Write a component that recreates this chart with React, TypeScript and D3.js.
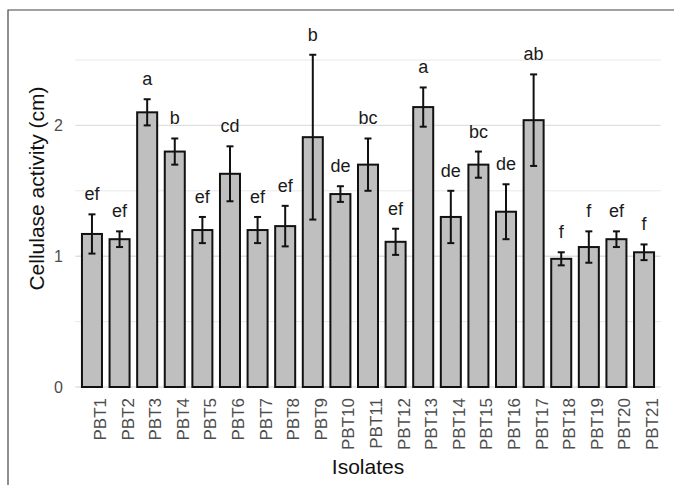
import React from 'react';
import * as d3 from 'd3';

// isolates and their mean cellulase activity (cm) with error (+/-)
const isolates = ['PBT1', 'PBT2', 'PBT3', 'PBT4', 'PBT5', 'PBT6', 'PBT7', 'PBT8', 'PBT9', 'PBT10', 'PBT11',
  'PBT12', 'PBT13', 'PBT14', 'PBT15', 'PBT16', 'PBT17', 'PBT18', 'PBT19', 'PBT20', 'PBT21'];
const means = [1.17, 1.13, 2.10, 1.80, 1.20, 1.63, 1.20, 1.23, 1.91, 1.475, 1.70,
  1.11, 2.14, 1.30, 1.70, 1.34, 2.04, 0.98, 1.07, 1.13, 1.03];
const errors = [0.15, 0.06, 0.10, 0.10, 0.10, 0.21, 0.10, 0.155, 0.63, 0.06, 0.20,
  0.10, 0.15, 0.20, 0.10, 0.21, 0.35, 0.05, 0.12, 0.06, 0.06];
const groups = ['ef', 'ef', 'a', 'b', 'ef', 'cd', 'ef', 'ef', 'b', 'de', 'bc',
  'ef', 'a', 'de', 'bc', 'de', 'ab', 'f', 'f', 'ef', 'f'];
const majorTicks = [0, 1, 2];
const minorTicks = [0.5, 1.5, 2.5];

const W = 674;
const H = 485;
const FONT = '"Liberation Sans", Arial, Helvetica, sans-serif';

const App = () => {
  const x = d3.scalePoint<string>().domain(isolates).range([75.4, 660.6]).padding(0.6);
  const y = d3.scaleLinear().domain([0, 2.5]).range([387, 60]);
  const barW = x.step() * 0.725;
  const cap = 3.5;

  return (
    <svg width={W} height={H} style={{ position: 'absolute', left: 0, top: 0, background: '#fff' }}
      fontFamily={FONT}>
      {/* frame */}
      <path d={`M8,${H} L8,10 L${W},10`} fill="none" stroke="#444" strokeWidth={1.2} />

      {/* grid */}
      {minorTicks.map(t => (
        <line key={'m' + t} x1={75.4} x2={660.6} y1={y(t)} y2={y(t)} stroke="#e8e8e8" strokeWidth={1} />
      ))}
      {majorTicks.map(t => (
        <line key={'M' + t} x1={75.4} x2={660.6} y1={y(t)} y2={y(t)} stroke="#e0e0e0" strokeWidth={1.4} />
      ))}

      {/* bars */}
      {isolates.map((d, i) => (
        <rect key={d} x={x(d)! - barW / 2} y={y(means[i])} width={barW} height={y(0) - y(means[i])}
          fill="#bfbfbf" stroke="#111" strokeWidth={2} />
      ))}

      {/* error bars */}
      {isolates.map((d, i) => {
        const cx = x(d)!;
        const top = y(means[i] + errors[i]);
        const bot = y(means[i] - errors[i]);
        return (
          <g key={'e' + d} stroke="#111" strokeWidth={2}>
            <line x1={cx} x2={cx} y1={top} y2={bot} />
            <line x1={cx - cap} x2={cx + cap} y1={top} y2={top} />
            <line x1={cx - cap} x2={cx + cap} y1={bot} y2={bot} />
          </g>
        );
      })}

      {/* significance letters */}
      {isolates.map((d, i) => (
        <text key={'g' + d} x={x(d)} y={y(means[i] + errors[i]) - 14} textAnchor="middle"
          fontSize={18} fill="#1a1a1a">{groups[i]}</text>
      ))}

      {/* y axis labels */}
      {majorTicks.map(t => (
        <text key={'yt' + t} x={63} y={y(t)} dy="0.35em" textAnchor="end" fontSize={16} fill="#4d4d4d">{t}</text>
      ))}

      {/* x axis labels */}
      {isolates.map(d => (
        <text key={'xt' + d} transform={`translate(${x(d)! + 8},398) rotate(-90)`} textAnchor="end"
          dy="0.35em" fontSize={17} fill="#4d4d4d">{d}</text>
      ))}

      {/* titles */}
      <text x={368} y={474} textAnchor="middle" fontSize={21} fill="#111">Isolates</text>
      <text transform="translate(44,188.5) rotate(-90)" textAnchor="middle" fontSize={21} fill="#111">
        Cellulase activity (cm)
      </text>
    </svg>
  );
};

export default App;
